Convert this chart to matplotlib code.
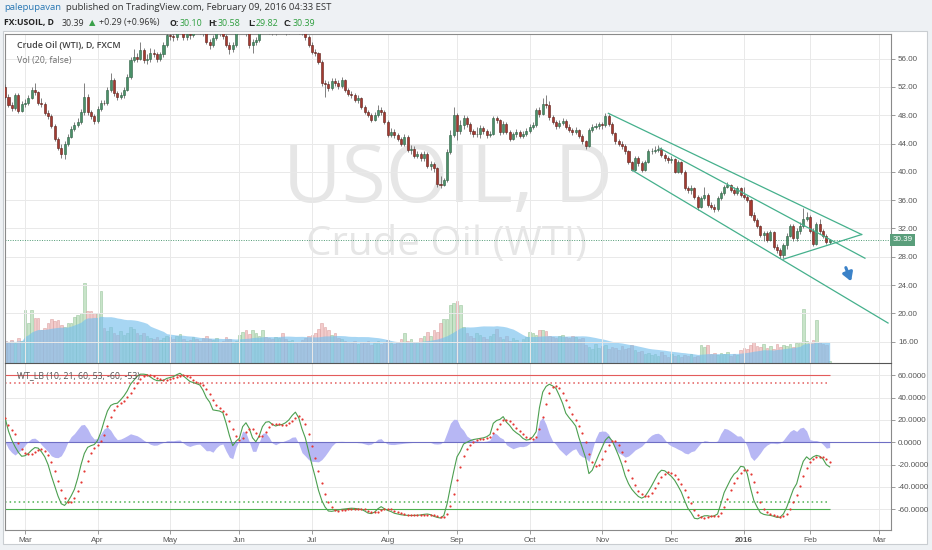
import numpy as np
import pandas as pd
import matplotlib
matplotlib.use("Agg")
import matplotlib.pyplot as plt
from matplotlib.patches import Rectangle

W, H = 932, 550

# daily bars FX:USOIL (FXCM closed on Dec 25 and Jan 1)
dates = pd.bdate_range("2015-02-20", "2016-02-09")
dates = dates.drop(pd.to_datetime(["2015-12-25", "2016-01-01"]))
future = pd.bdate_range("2016-02-10", "2016-03-01")

first_open = 52.0
close = [
    50.6, 49.5, 49.0, 50.9, 48.6, 49.6, 49.8, 50.5, 51.6, 51.3,
    49.8, 49.6, 48.3, 47.9, 46.5, 44.7, 43.4, 42.5, 44.0, 45.0,
    46.1, 46.6, 47.1, 48.4, 50.6, 48.4, 47.9, 47.2, 48.9, 49.8,
    49.7, 51.6, 53.0, 51.1, 50.6, 50.8, 51.6, 53.4, 55.8, 56.3,
    56.0, 57.2, 55.8, 55.9, 56.8, 56.6, 56.0, 56.6, 57.9, 59.3,
    59.2, 59.0, 60.4, 61.0, 59.0, 59.5, 59.3, 60.8, 60.6, 59.9,
    59.7, 58.4, 57.9, 58.9, 59.9, 59.6, 59.2, 58.0, 57.3, 57.9,
    60.1, 60.4, 61.2, 59.6, 57.9, 58.3, 58.6, 60.2, 61.3, 60.6,
    59.9, 59.7, 60.1, 60.6, 60.4, 59.8, 60.2, 61.0, 60.3, 59.9,
    59.7, 59.0, 58.0, 56.9, 56.8, 55.6, 52.6, 52.4, 51.9, 52.8,
    52.6, 52.2, 53.0, 51.6, 51.0, 50.9, 50.2, 50.4, 49.2, 48.5,
    48.1, 47.4, 48.0, 48.8, 48.5, 47.1, 45.2, 45.7, 45.2, 44.7,
    43.9, 45.0, 43.1, 43.3, 42.2, 42.5, 41.9, 42.6, 40.8, 41.1,
    40.5, 38.3, 38.1, 38.8, 42.8, 45.2, 48.0, 45.8, 46.6, 47.6,
    46.7, 45.8, 45.3, 45.4, 46.2, 45.8, 45.2, 45.4, 47.6, 47.3,
    45.6, 46.8, 45.6, 44.7, 45.3, 45.6, 45.1, 45.4, 45.8, 46.3,
    46.6, 48.8, 48.2, 49.6, 49.5, 47.7, 47.0, 46.5, 46.9, 47.2,
    46.4, 45.9, 45.6, 45.9, 45.1, 44.3, 43.7, 45.9, 46.3, 46.5,
    46.7, 46.6, 47.9, 46.8, 45.5, 44.3, 44.0, 43.6, 42.9, 41.4,
    40.3, 41.9, 41.2, 40.3, 41.4, 42.9, 43.0, 43.1, 43.3, 42.4,
    41.9, 41.7, 41.8, 40.0, 41.4, 40.0, 37.7, 37.4, 37.7, 36.5,
    35.1, 36.3, 36.7, 35.3, 35.1, 34.7, 36.3, 37.0, 37.9, 38.1,
    37.5, 37.0, 37.7, 36.8, 36.5, 36.0, 33.9, 33.2, 32.3, 31.1,
    31.3, 30.4, 31.5, 29.4, 29.0, 28.2, 29.6, 31.0, 32.4, 30.6,
    31.6, 32.4, 33.4, 33.6, 31.7, 29.8, 32.6, 31.6, 31.0, 30.1,
    30.39,
]
high = [
    52.4, 51.0, 49.9, 51.2, 51.1, 50.0, 50.3, 50.9, 52.0, 52.5,
    51.5, 50.4, 49.9, 48.7, 48.2, 46.8, 45.0, 43.9, 44.3, 45.4,
    46.5, 47.0, 47.6, 48.9, 52.5, 51.0, 48.8, 48.2, 49.3, 50.2,
    50.1, 52.0, 54.0, 53.3, 51.5, 51.3, 52.0, 53.8, 56.2, 57.3,
    56.8, 58.3, 57.5, 56.6, 57.5, 57.4, 57.0, 57.0, 58.4, 59.8,
    59.9, 59.8, 60.8, 62.5, 61.2, 60.0, 60.0, 61.2, 61.3, 60.9,
    60.3, 60.0, 58.8, 59.3, 60.6, 60.3, 59.9, 59.5, 58.4, 58.3,
    60.4, 61.0, 61.6, 61.4, 59.9, 58.8, 59.1, 60.5, 61.7, 61.6,
    60.9, 60.2, 60.5, 61.0, 61.0, 60.7, 60.6, 61.4, 61.3, 60.7,
    60.2, 59.9, 59.3, 58.4, 57.4, 57.0, 55.8, 53.0, 52.8, 53.3,
    53.3, 53.0, 53.4, 53.2, 51.9, 51.4, 51.1, 50.8, 50.6, 49.5,
    48.8, 48.3, 48.4, 49.4, 49.2, 48.7, 47.3, 46.2, 46.0, 45.5,
    45.0, 45.3, 45.2, 43.8, 43.6, 42.9, 42.8, 43.0, 42.8, 41.6,
    41.4, 40.7, 39.4, 39.2, 43.2, 45.9, 49.2, 48.3, 47.3, 48.0,
    47.9, 47.0, 46.1, 46.4, 46.6, 46.5, 46.0, 45.8, 47.9, 47.9,
    47.5, 47.2, 47.0, 45.9, 45.7, 46.0, 45.9, 45.8, 46.2, 46.7,
    47.0, 49.1, 49.2, 50.5, 50.9, 50.0, 48.0, 47.3, 47.3, 47.6,
    47.5, 46.7, 46.2, 46.3, 46.1, 45.4, 44.5, 46.2, 46.7, 46.9,
    47.1, 47.0, 48.3, 48.2, 47.0, 45.7, 44.6, 44.3, 43.9, 43.1,
    41.6, 42.2, 42.2, 41.5, 41.7, 43.2, 43.4, 43.6, 43.8, 43.5,
    42.7, 42.2, 42.2, 42.0, 41.7, 41.6, 40.2, 38.0, 38.1, 37.9,
    36.7, 36.6, 37.9, 37.0, 35.7, 35.4, 36.6, 37.3, 38.2, 38.6,
    38.3, 37.8, 38.0, 37.9, 37.9, 36.8, 36.2, 34.3, 33.5, 32.5,
    31.7, 31.6, 31.8, 31.7, 29.8, 29.3, 29.9, 31.3, 32.7, 32.6,
    32.0, 32.9, 34.9, 34.4, 33.9, 32.0, 32.9, 33.3, 31.9, 31.2,
    30.58,
]
low = [
    50.3, 49.2, 48.6, 48.8, 48.3, 48.4, 49.2, 49.5, 50.3, 50.9,
    49.5, 49.2, 48.0, 47.5, 46.2, 44.4, 43.1, 42.0, 41.8, 43.7,
    44.8, 45.8, 46.3, 46.8, 48.1, 48.0, 47.5, 46.8, 46.9, 48.6,
    49.4, 49.4, 51.3, 50.7, 50.2, 50.3, 50.5, 51.4, 53.2, 55.5,
    55.5, 55.8, 55.4, 55.3, 55.6, 56.2, 55.6, 55.7, 56.3, 57.6,
    58.7, 58.5, 58.7, 60.0, 58.6, 58.7, 58.8, 59.1, 60.0, 59.5,
    59.2, 58.1, 57.4, 57.6, 58.6, 59.2, 58.8, 57.6, 56.6, 57.0,
    57.6, 59.6, 60.1, 59.2, 57.5, 56.8, 57.9, 58.4, 60.0, 60.2,
    59.5, 59.3, 59.4, 59.8, 60.0, 59.4, 59.5, 59.9, 59.9, 59.5,
    59.3, 58.6, 57.6, 56.6, 56.4, 55.3, 52.2, 50.6, 51.4, 51.6,
    52.1, 51.7, 51.9, 51.3, 50.7, 50.5, 49.9, 49.8, 48.9, 48.2,
    47.8, 47.0, 47.2, 47.8, 48.1, 46.8, 44.9, 44.9, 44.8, 44.3,
    43.6, 43.7, 42.8, 42.6, 41.9, 41.9, 41.6, 41.6, 40.5, 40.3,
    40.0, 37.9, 37.7, 38.0, 38.6, 42.5, 44.9, 44.5, 45.3, 46.1,
    46.3, 45.4, 44.9, 44.9, 44.8, 45.4, 44.8, 44.9, 45.2, 46.9,
    45.2, 45.4, 45.3, 44.4, 44.5, 45.0, 44.8, 44.8, 45.1, 45.5,
    46.0, 46.4, 47.8, 48.0, 49.1, 47.4, 46.7, 46.1, 46.2, 46.6,
    46.1, 45.6, 45.2, 45.3, 44.8, 44.0, 43.2, 43.5, 45.6, 46.0,
    46.1, 46.0, 46.4, 46.5, 45.2, 44.0, 43.7, 43.2, 42.6, 41.1,
    40.1, 40.1, 40.9, 40.0, 40.1, 41.2, 42.6, 42.7, 42.8, 42.1,
    41.6, 41.3, 41.3, 39.8, 39.8, 39.7, 37.5, 37.0, 36.9, 36.2,
    34.6, 34.9, 36.0, 35.0, 34.8, 34.4, 34.5, 36.0, 36.8, 37.7,
    37.2, 36.7, 36.8, 36.5, 36.2, 35.7, 33.6, 32.9, 32.0, 30.8,
    30.3, 30.1, 30.2, 29.1, 28.6, 27.8, 27.9, 29.1, 30.8, 30.3,
    30.3, 31.2, 32.1, 33.0, 31.4, 29.5, 29.6, 31.2, 30.6, 29.8,
    29.82,
]
# volume, thousands of ticks
volume = [
    22, 21, 23, 20, 25, 22, 53, 40, 53, 45,
    45, 33, 35, 40, 44, 42, 43, 38, 36, 40,
    40, 46, 48, 50, 80, 52, 52, 50, 50, 72,
    35, 32, 36, 30, 28, 32, 28, 30, 36, 34,
    30, 28, 30, 27, 25, 24, 26, 23, 25, 27,
    26, 24, 27, 29, 24, 22, 23, 26, 24, 22,
    25, 27, 24, 23, 25, 21, 22, 26, 24, 20,
    22, 28, 31, 33, 29, 33, 30, 27, 33, 26,
    25, 24, 26, 25, 30, 24, 22, 23, 20, 21,
    23, 25, 27, 28, 30, 34, 40, 36, 33, 28,
    30, 25, 24, 22, 21, 20, 22, 19, 21, 20,
    22, 18, 20, 22, 19, 21, 23, 20, 19, 21,
    24, 30, 22, 24, 20, 21, 25, 27, 31, 27,
    33, 31, 40, 44, 44, 58, 60, 62, 58, 36,
    30, 27, 25, 30, 28, 26, 24, 27, 29, 34,
    26, 24, 27, 22, 25, 23, 21, 24, 26, 31,
    30, 28, 33, 33, 32, 27, 26, 25, 27, 28,
    26, 25, 27, 26, 24, 25, 18, 16, 14, 19,
    15, 17, 18, 14, 16, 15, 13, 17, 14, 15,
    18, 13, 11, 12, 9, 10, 8, 9, 7, 11,
    8, 6, 9, 7, 8, 6, 8, 7, 9, 6,
    7, 18, 16, 18, 9, 10, 8, 10, 9, 11,
    7, 9, 8, 13, 15, 14, 18, 21, 17, 16,
    19, 15, 17, 14, 19, 16, 18, 17, 19, 16,
    20, 21, 54, 22, 20, 23, 43, 21, 19, 18,
    2,
]
# WT_LB wave trend line (wt1)
wt1 = [
    21.5, 10, 2, -4, -9, -12.5, -12, -10, -7, -4.7,
    -5.2, -8.5, -13, -20, -30, -39, -48, -55, -56.5, -53,
    -48, -42, -32, -20, -10, -4.5, -3, -2, 1.5, 9,
    19, 28, 33, 34.5, 35, 38, 41.5, 46, 52, 55.5,
    59, 61, 61, 60.5, 58.5, 56.5, 55.2, 55.2, 55.5, 57.2,
    58, 58.8, 60.5, 61.8, 59.5, 57, 54.5, 53.5, 52.5, 51.3,
    46.5, 40, 36, 29, 28.5, 28, 26.5, 17, 6, -3,
    1, 3.5, 14, 17.5, 12.5, 4, 0.5, 5.5, 14, 18,
    18.5, 16, 14.6, 15.5, 16, 17.5, 20, 24, 27, 22,
    12, 4, -8, -20, -31, -43, -52, -58, -61.5, -61.8,
    -61.2, -60.5, -60, -59.6, -59.3, -59, -59.2, -59.6, -60, -61.5,
    -63.3, -63.8, -62.5, -59.5, -57.6, -59.5, -61, -62, -63.5, -64.2,
    -64.8, -65.2, -65.4, -65.5, -65.4, -65.3, -65, -64.5, -64.2, -64.8,
    -66.3, -67.2, -67.8, -65.5, -55, -40, -26, -13, -8, -1.5,
    0, 1.5, 2.5, 3, 3.5, 4, 5, 7, 17, 19.5,
    20.5, 23, 18, 15, 11, 8.5, 6.5, 3.5, 2, 2.5,
    5, 9.5, 31, 45, 50, 52, 50.5, 48.3, 42, 35,
    26, 22, 18.5, 14.5, 4, -5, -14, -28, -25, -18,
    -11, -4.5, 2, 5, 1.5, -5, -12, -20, -30, -37,
    -42, -45.5, -48.5, -50, -48.5, -44, -39, -33.5, -28, -25,
    -25.5, -28, -30.5, -34, -39, -44.5, -52, -59, -63, -68,
    -68.5, -67, -65.8, -65.7, -66.4, -65.8, -64.2, -55, -45, -39,
    -33, -28.5, -26, -21.5, -22, -28, -41, -52, -58, -63,
    -64.5, -65.1, -65.4, -66.2, -67.2, -67, -64, -58, -50, -42,
    -37, -26, -17, -13, -15.5, -13, -11.7, -12.5, -15, -20,
    -22,
]

# trend lines drawn on the chart: (bar, price) anchors
upper_line = [(182.9, 48.28), (259.7, 31.15)]
middle_line = [(198.5, 43.34), (260.7, 27.80)]
lower_line = [(190.0, 40.27), (267.7, 18.64)]
wedge_line = [(235.9, 27.65), (259.7, 31.15)]
arrow_pts = [(254.6, 26.84), (256.8, 24.16)]

last_price = 30.39

n = len(dates)
assert len(close) == len(high) == len(low) == len(volume) == len(wt1) == n

x = np.arange(n)
c = np.array(close)
o = np.concatenate([[first_open], c[:-1]])
hi = np.maximum(np.array(high), np.maximum(o, c))
lo = np.minimum(np.array(low), np.minimum(o, c))
vol = np.array(volume, dtype=float)
up = c >= o

w1 = pd.Series(wt1, dtype=float)
w2 = w1.rolling(4, min_periods=1).mean()
hist = w1 - w2
vol_ma = pd.Series(vol).rolling(20, min_periods=1).mean()

# month ticks (first bar of each month), incl. Mar 2016 in the empty area
all_days = dates.append(future)
month_first = pd.Series(np.arange(len(all_days)), index=all_days)
month_first = month_first.groupby([all_days.year, all_days.month]).first()
tick_pos = list(month_first.values[1:])
tick_lab = []
for (yy, mm) in month_first.index[1:]:
    tick_lab.append(str(yy) if mm == 1 else pd.Timestamp(yy, mm, 1).strftime("%b"))

XMIN, XMAX = -0.06, 268.6
GRID = "#e9e9e9"
SPINE = "#8a8a8a"
TXT = "#555555"
UP, DOWN = "#4a9068", "#a63a30"
TEAL = "#45b08c"

plt.rcParams["font.family"] = ["Open Sans", "DejaVu Sans"]

fig = plt.figure(figsize=(W / 100, H / 100), dpi=100, facecolor="#eef1f4")
fig.patches.append(Rectangle((3 / W, 1 - 544 / H), 924 / W, 513 / H,
                             transform=fig.transFigure, facecolor="white",
                             edgecolor="#c9cdd1", lw=0.8, zorder=-5))


def frac(px_left, px_top, px_right, px_bottom):
    return [px_left / W, 1 - px_bottom / H, (px_right - px_left) / W,
            (px_bottom - px_top) / H]


# ---------------- price panel ----------------
ax = fig.add_axes(frac(5, 34, 891, 363))
axv = ax.twinx()
ax.set_zorder(axv.get_zorder() + 1)
ax.patch.set_visible(False)
axv.patch.set_facecolor("white")

# volume + MA
axv.bar(x[up], vol[up], width=0.8, color="#bfe0c0", edgecolor="#8fbf92",
        linewidth=0.4, alpha=0.85)
axv.bar(x[~up], vol[~up], width=0.8, color="#f0c2c2", edgecolor="#d99a9a",
        linewidth=0.4, alpha=0.85)
axv.fill_between(x, 0, vol_ma, color="#78c0ee", alpha=0.65, linewidth=0)
axv.set_ylim(0, vol.max() * 329 / 80)
axv.set_yticks([])
for s in axv.spines.values():
    s.set_visible(False)

ax.set_xlim(XMIN, XMAX)
ax.set_ylim(12.99, 59.49)
ax.set_yticks(np.arange(16, 57, 4))
ax.yaxis.set_major_formatter(matplotlib.ticker.FormatStrFormatter("%.2f"))
ax.yaxis.tick_right()
ax.set_xticks(tick_pos)
ax.set_xticklabels([])
ax.tick_params(axis="x", length=0)
ax.tick_params(axis="y", length=3, width=0.6, color=SPINE, labelsize=5.8,
               labelcolor=TXT, pad=2)
for lab in ax.get_yticklabels():
    lab.set_fontfamily("Liberation Sans")
ax.grid(True, color=GRID, lw=0.7)
ax.set_axisbelow(True)
for s in ax.spines.values():
    s.set_color(SPINE)
    s.set_linewidth(0.8)
ax.spines["bottom"].set_color("#555555")

# watermark
ax.text(0.5, 0.489, "USOIL, D", transform=ax.transAxes, ha="center",
        va="baseline", fontsize=58, color="#e6e6e6", zorder=0)
ax.text(0.498, 0.328, "Crude Oil (WTI)", transform=ax.transAxes, ha="center",
        va="baseline", fontsize=29, color="#e6e6e6", zorder=0)

# candles
ax.vlines(x, lo, hi, color="#6b6b6b", lw=0.6, zorder=3)
body_lo = np.minimum(o, c)
body_h = np.maximum(np.abs(c - o), 0.04)
ax.bar(x[up], body_h[up], bottom=body_lo[up], width=0.62, color=UP,
       edgecolor="#2f5f44", linewidth=0.4, zorder=4)
ax.bar(x[~up], body_h[~up], bottom=body_lo[~up], width=0.62, color=DOWN,
       edgecolor="#5a1f1a", linewidth=0.4, zorder=4)

# trend lines and arrow
for ln in (upper_line, middle_line, lower_line, wedge_line):
    ax.plot([ln[0][0], ln[1][0]], [ln[0][1], ln[1][1]], color=TEAL, lw=0.9,
            zorder=5)
ax.annotate("", xy=arrow_pts[1], xytext=arrow_pts[0],
            arrowprops=dict(arrowstyle="-|>,head_length=0.5,head_width=0.3",
                            color="#3b82c8", lw=2.2), zorder=6)

# last price line + label
ax.axhline(last_price, color="#4f9a74", lw=0.7, ls=(0, (1, 1.5)), zorder=2)
ax.text(1.002, last_price, "30.39", transform=ax.get_yaxis_transform(),
        ha="left", va="center", fontsize=5.8, color="white",
        family="Liberation Sans",
        bbox=dict(boxstyle="square,pad=0.3", fc="#5a9e7b", ec="none"),
        zorder=10, clip_on=False)

ax.text(12 / 886, 1 - 12 / 329, "Crude Oil (WTI), D, FXCM",
        transform=ax.transAxes, ha="left", va="center", fontsize=6.4,
        color="#404040", fontweight="semibold")
ax.text(12 / 886, 1 - 26 / 329, "Vol (20, false)", transform=ax.transAxes,
        ha="left", va="center", fontsize=6.4, color="#707070")

# ---------------- WT_LB panel ----------------
ax2 = fig.add_axes(frac(5, 363, 891, 530))
ax2.set_xlim(XMIN, XMAX)
ax2.set_ylim(-78.5, 71.0)
ax2.fill_between(x, 0, hist, color="#b7b7f4", linewidth=0, zorder=1)
ax2.axhline(0, color="#6e6ec4", lw=0.8, zorder=2)
ax2.hlines(60, XMIN, x[-1], color="#e35b5b", lw=0.8, zorder=2)
ax2.hlines(53, XMIN, x[-1], color="#e35b5b", lw=1.1, ls=(0, (1, 2)), zorder=2)
ax2.hlines(-53, XMIN, x[-1], color="#4caf50", lw=1.1, ls=(0, (1, 2)), zorder=2)
ax2.hlines(-60, XMIN, x[-1], color="#4caf50", lw=0.8, zorder=2)
ax2.plot(x, w1, color="#4c9f50", lw=0.8, zorder=3)
ax2.plot(x, w2, ls="none", marker="o", ms=1.6, mec="none", color="#e53935",
         zorder=4)

ax2.set_yticks(np.arange(-60, 61, 20))
ax2.yaxis.set_major_formatter(matplotlib.ticker.FormatStrFormatter("%.4f"))
ax2.yaxis.tick_right()
ax2.set_xticks(tick_pos)
ax2.set_xticklabels(tick_lab)
ax2.tick_params(axis="both", length=3, width=0.6, color=SPINE, labelsize=5.8,
                labelcolor=TXT, pad=2)
for lab in ax2.get_yticklabels() + ax2.get_xticklabels():
    lab.set_fontfamily("Liberation Sans")
for lab in ax2.get_xticklabels():
    if lab.get_text().isdigit():
        lab.set_fontweight("bold")
ax2.grid(True, color=GRID, lw=0.7)
ax2.set_axisbelow(True)
for s in ax2.spines.values():
    s.set_color(SPINE)
    s.set_linewidth(0.8)
ax2.spines["top"].set_visible(False)
ax2.text(12 / 886, 1 - 13 / 167, "WT_LB (10, 21, 60, 53, -60, -53)",
         transform=ax2.transAxes, ha="left", va="center", fontsize=6.3,
         color=TXT, zorder=6)

# ---------------- header ----------------
def htext(px, py, s, **kw):
    fig.text(px / W, 1 - py / H, s, ha="left", va="center", **kw)


htext(4, 8, "palepupavan", fontsize=6.8, color="#2a78b4")
htext(66, 8, "published on TradingView.com, February 09, 2016 04:33 EST",
      fontsize=6.8, color="#333333")
htext(4, 23, "FX:USOIL, D", fontsize=6.2, color="#222222", fontweight="bold")
htext(62, 23, "30.39", fontsize=6.4, color="#333333")
htext(89, 23, "\u25b2", fontsize=6.0, color="#3aa04a", family="DejaVu Sans")
htext(99, 23, "+0.29 (+0.96%)", fontsize=6.4, color="#333333")
for lab, val, px_l, px_v in (("O:", "30.10", 170, 180),
                             ("H:", "30.58", 208, 218),
                             ("L:", "29.82", 248, 256),
                             ("C:", "30.39", 284, 293)):
    htext(px_l, 23, lab, fontsize=6.2, color="#222222", fontweight="bold")
    htext(px_v, 23, val, fontsize=6.4, color="#2e9e3e")

fig.savefig("out.png", dpi=100, facecolor=fig.get_facecolor())
